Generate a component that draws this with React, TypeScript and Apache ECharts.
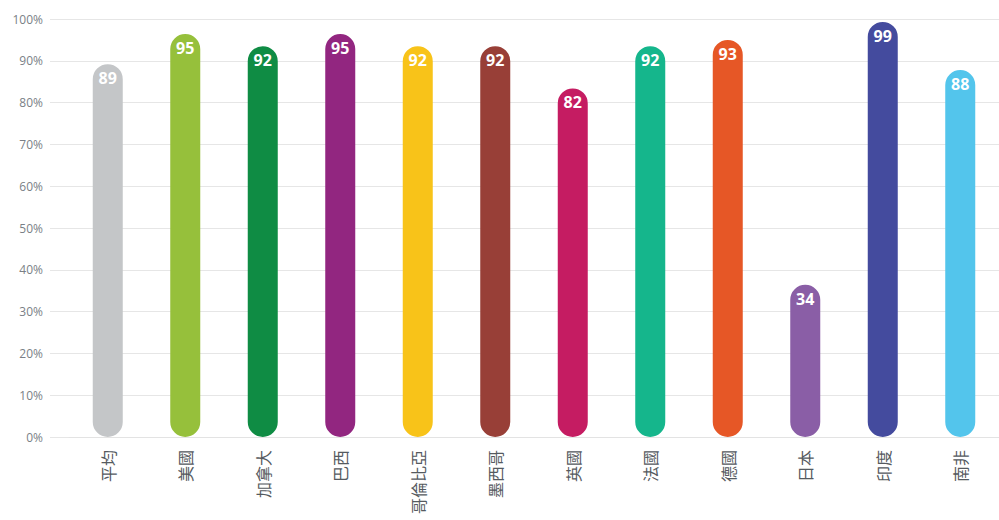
import React, { useEffect, useRef } from "react";
import * as echarts from "echarts";

const categories = ["平均", "美國", "加拿大", "巴西", "哥倫比亞", "墨西哥", "英國", "法國", "德國", "日本", "印度", "南非"];
// bar heights (%)
const heights = [89.2, 96.4, 93.5, 96.4, 93.5, 93.5, 83.4, 93.5, 95, 36.4, 99.3, 87.8];
// value labels printed on the bars
const labels = ["89", "95", "92", "95", "92", "92", "82", "92", "93", "34", "99", "88"];
const colors = ["#c4c6c8", "#96c03b", "#0f8c44", "#922680", "#f8c319", "#983f37", "#c51c62", "#15b68c", "#e65726", "#8a5ea6", "#444b9e", "#53c5ec"];
const yTicks = [0, 10, 20, 30, 40, 50, 60, 70, 80, 90, 100];

export default function App() {
  const ref = useRef<HTMLDivElement>(null);
  useEffect(() => {
    if (!ref.current) return;
    const chart = echarts.init(ref.current, null, { renderer: "svg" });
    chart.setOption({
      animation: false,
      grid: [
        { left: 50, right: 0, top: 19, bottom: 83 },
        { left: 69, right: 0, top: 19, bottom: 83 },
      ],
      xAxis: [
        { gridIndex: 0, type: "value", show: false, min: 0, max: 1 },
        {
          gridIndex: 1,
          type: "category",
          data: categories,
          axisLine: { show: true, lineStyle: { color: "#e3e3e3", width: 1 } },
          axisTick: { show: false },
          axisLabel: {
            rotate: 90,
            margin: 13,
            fontSize: 16,
            color: "#555a60",
            fontFamily: "Noto Sans CJK TC",
          },
        },
      ],
      yAxis: [
        {
          gridIndex: 0,
          type: "value",
          min: 0,
          max: 100,
          interval: 10,
          axisLine: { show: false },
          axisTick: { show: false },
          splitLine: { lineStyle: { color: "#e6e6e6", width: 1 } },
          axisLabel: {
            formatter: (v: number) => (yTicks.includes(v) ? v + "%" : ""),
            color: "#7a7f86",
            fontSize: 12,
            margin: 7,
            fontFamily: "Open Sans",
          },
        },
        { gridIndex: 1, type: "value", min: 0, max: 100, show: false },
      ],
      series: [
        {
          type: "bar",
          xAxisIndex: 1,
          yAxisIndex: 1,
          barWidth: 30,
          data: heights.map((v, i) => ({ value: v, itemStyle: { color: colors[i] } })),
          itemStyle: { borderRadius: 15 },
          label: {
            show: true,
            position: "insideTop",
            distance: 6,
            color: "#ffffff",
            fontSize: 16,
            fontWeight: "bold",
            fontFamily: "Open Sans",
            formatter: (p: any) => labels[p.dataIndex],
          },
        },
      ],
    });
    return () => chart.dispose();
  }, []);
  return <div ref={ref} style={{ width: 999, height: 520, position: "absolute", left: 0, top: 0 }} />;
}
